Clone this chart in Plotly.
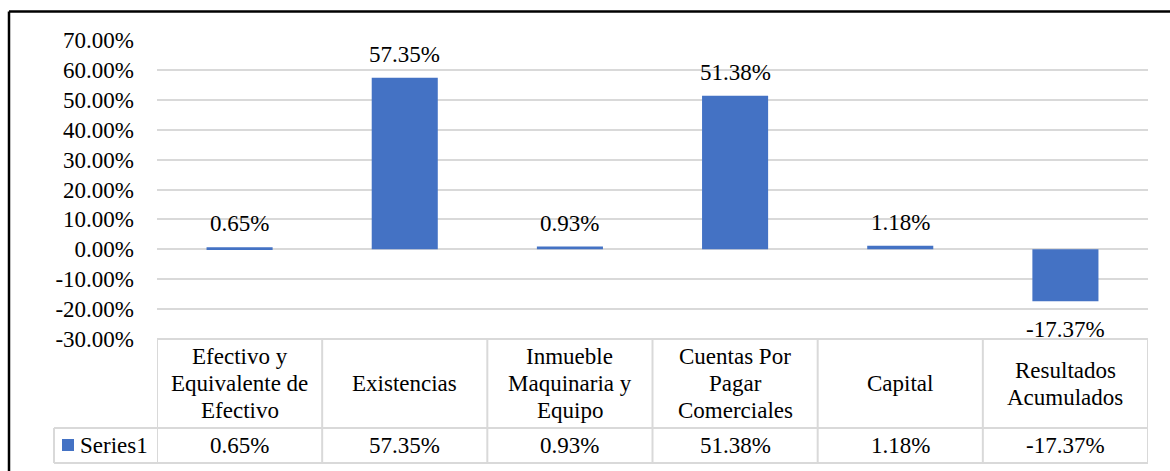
import plotly.graph_objects as go

# Chart data
categories = [
    "Efectivo y Equivalente de Efectivo",
    "Existencias",
    "Inmueble Maquinaria y Equipo",
    "Cuentas Por Pagar Comerciales",
    "Capital",
    "Resultados Acumulados",
]
header_lines = [
    ["Efectivo y", "Equivalente de", "Efectivo"],
    ["Existencias"],
    ["Inmueble", "Maquinaria y", "Equipo"],
    ["Cuentas Por", "Pagar", "Comerciales"],
    ["Capital"],
    ["Resultados", "Acumulados"],
]
series_name = "Series1"
values = [0.65, 57.35, 0.93, 51.38, 1.18, -17.37]
tick_values = [70, 60, 50, 40, 30, 20, 10, 0, -10, -20, -30]
tick_labels = [f"{v:.2f}%" for v in tick_values]

W, H = 1170, 471
L, R, T, B = 157, 22, 40, 132
PW, PH = W - L - R, H - T - B

FONT = "Liberation Serif"
FS = 23
TXT = dict(family=FONT, size=FS, color="#000000")
BAR = "#4472C4"
GRID = "#d9d9d9"


def px(x):
    return (x - L) / PW


def py(y):
    return (H - B - y) / PH


fig = go.Figure(
    go.Bar(
        x=categories,
        y=values,
        marker=dict(color=BAR, line=dict(width=0)),
        hoverinfo="skip",
        showlegend=False,
    )
)

annotations = []
shapes = []

# data labels above / below the bars
for c, v in zip(categories, values):
    annotations.append(
        dict(
            x=c, y=v, xref="x", yref="y",
            text=f"{v:.2f}%",
            showarrow=False,
            yanchor="bottom" if v >= 0 else "top",
            yshift=9 if v >= 0 else -14,
            font=TXT,
        )
    )

# data table: header row with category names
row1_top, row1_bot, row2_bot = H - B, 428, 463
line_gap = 27
for i, lines in enumerate(header_lines):
    n = len(lines)
    centre = (row1_top + row1_bot) / 2
    for k, t in enumerate(lines):
        yy = centre + (k - (n - 1) / 2) * line_gap
        annotations.append(
            dict(x=i, y=py(yy), xref="x", yref="paper",
                 text=t, showarrow=False, yanchor="middle", font=TXT)
        )
    # value row
    annotations.append(
        dict(x=i, y=py((row1_bot + row2_bot) / 2), xref="x", yref="paper",
             text=f"{values[i]:.2f}%", showarrow=False, yanchor="middle",
             font=TXT)
    )

# legend key cell
annotations.append(
    dict(x=px(78), y=py((row1_bot + row2_bot) / 2), xref="paper", yref="paper",
         text=series_name, showarrow=False, xanchor="left", yanchor="middle",
         font=TXT)
)
shapes.append(
    dict(type="rect", xref="paper", yref="paper",
         x0=px(62), x1=px(74), y0=py(439), y1=py(451),
         fillcolor=BAR, line=dict(width=0))
)

tbl = dict(color=GRID, width=2)
# horizontal table rules
shapes.append(dict(type="line", xref="paper", yref="paper",
                   x0=0, x1=1, y0=py(row1_top), y1=py(row1_top), line=tbl))
for yy in (row1_bot, row2_bot):
    shapes.append(dict(type="line", xref="paper", yref="paper",
                       x0=px(54), x1=1, y0=py(yy), y1=py(yy), line=tbl))
# vertical table rules at category boundaries
for i in range(len(categories) + 1):
    shapes.append(dict(type="line", xref="x", yref="paper",
                       x0=i - 0.5, x1=i - 0.5, y0=py(row1_top), y1=py(row2_bot),
                       line=tbl))
shapes.append(dict(type="line", xref="paper", yref="paper",
                   x0=px(54), x1=px(54), y0=py(row1_bot), y1=py(row2_bot),
                   line=tbl))

# outer chart frame (top and left edges)
frame = dict(color="#000000", width=2.5)
shapes.append(dict(type="line", xref="paper", yref="paper",
                   x0=px(9), x1=px(W + 10), y0=py(11.5), y1=py(11.5), line=frame))
shapes.append(dict(type="line", xref="paper", yref="paper",
                   x0=px(9), x1=px(9), y0=py(11.5), y1=py(H + 10), line=frame))

fig.update_layout(
    width=W, height=H,
    margin=dict(l=L, r=R, t=T, b=B, pad=0),
    paper_bgcolor="white", plot_bgcolor="white",
    bargap=0.6,
    xaxis=dict(showticklabels=False, showgrid=False, zeroline=False,
               showline=False, ticks="", range=[-0.5, 5.5]),
    yaxis=dict(range=[-30, 70], tickvals=tick_values, ticktext=tick_labels,
               showgrid=True, gridcolor=GRID, gridwidth=2, zeroline=False,
               showline=False, ticks="", ticklabelstandoff=22,
               tickfont=TXT),
    annotations=annotations,
    shapes=shapes,
    showlegend=False,
)

fig.write_html("out.html")
